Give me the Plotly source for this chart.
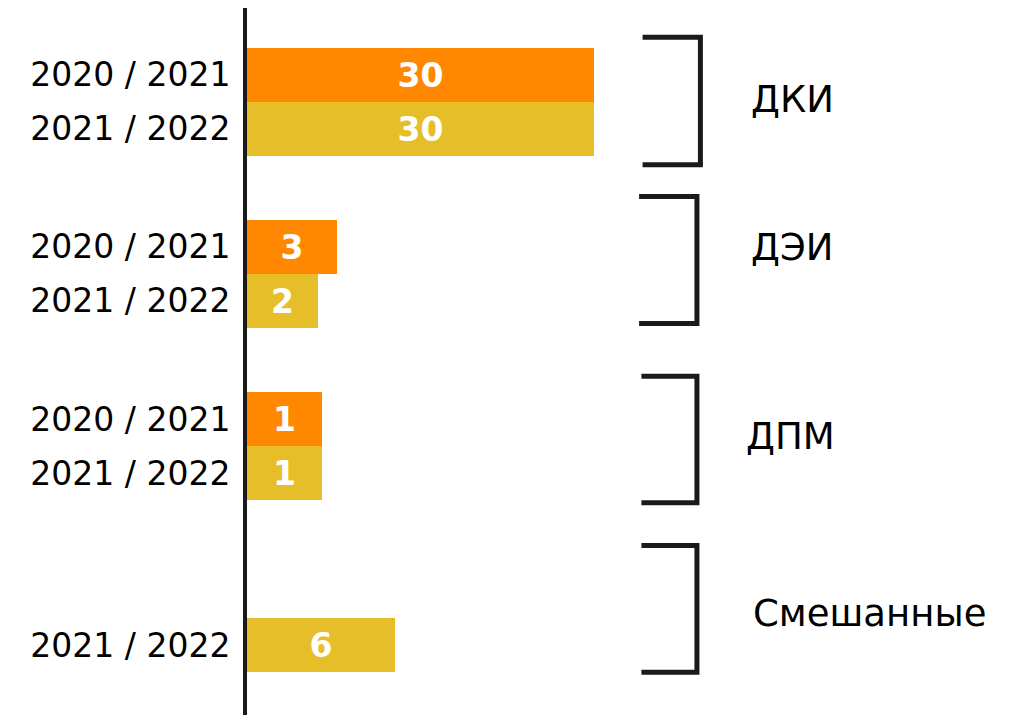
import plotly.graph_objects as go

# groups and periods
groups = ["ДКИ", "ДЭИ", "ДПМ", "Смешанные"]
periods = ["2020 / 2021", "2021 / 2022"]

# value labels shown on the bars
values_2021 = [30, 3, 1, None]
values_2022 = [30, 2, 1, 6]

# drawn bar lengths as they appear in the picture (not to scale with the labels)
length_2021 = [30, 7.8, 6.5, None]
length_2022 = [30, 6.1, 6.5, 12.8]

ORANGE = "#FF8800"
YELLOW = "#E6BE2A"
INK = "#1a1a1a"
FONT = "DejaVu Sans, sans-serif"

GROUP_PITCH = 3.19   # slots between group starts
FONT_SIZE = 33


def group_y(g, slot):
    return g * GROUP_PITCH + slot


fig = go.Figure()

tick_vals, tick_text = [], []
for slot, (vals, lens, color) in enumerate(
        [(values_2021, length_2021, ORANGE), (values_2022, length_2022, YELLOW)]):
    ys, xs, txt = [], [], []
    for g in range(len(groups)):
        if vals[g] is None:
            continue
        ys.append(group_y(g, slot))
        xs.append(lens[g])
        txt.append(str(vals[g]))
        tick_vals.append(group_y(g, slot))
        tick_text.append(periods[slot])
    fig.add_trace(go.Bar(
        x=xs, y=ys, orientation="h", width=1.0,
        marker=dict(color=color, line=dict(width=0)),
        text=txt, textposition="inside", insidetextanchor="middle",
        textangle=0,
        textfont=dict(family=FONT, size=FONT_SIZE, color="white", weight="bold"),
        cliponaxis=False, showlegend=False, hoverinfo="skip",
    ))

# brackets on the right: (top, bottom, left x, right x) in axis units
brackets = [(-0.69, 1.67, 34.2, 39.2),
            (2.26, 4.61, 33.9, 38.9),
            (5.59, 7.93, 34.1, 38.9),
            (8.72, 11.07, 34.1, 38.9)]
label_y = [0.47, 3.2, 6.7, 9.99]
label_x = [43.4, 43.4, 43.0, 43.6]

for (top, bot, x0, x1) in brackets:
    fig.add_shape(type="path",
                  path=f"M {x0},{top} L {x1},{top} L {x1},{bot} L {x0},{bot}",
                  xref="x", yref="y", line=dict(color=INK, width=5))

for g, name in enumerate(groups):
    fig.add_annotation(x=label_x[g], y=label_y[g], text=name, showarrow=False,
                       xanchor="left", yanchor="middle",
                       font=dict(family=FONT, size=37, color="black"))

fig.update_layout(
    width=1015, height=715,
    margin=dict(l=239, r=0, t=0, b=0),
    paper_bgcolor="white", plot_bgcolor="white",
    bargap=0,
    xaxis=dict(range=[0, 67.09], visible=False, fixedrange=True),
    yaxis=dict(range=[12.009, -1.2315], showgrid=False, zeroline=False,
               showline=True, linewidth=4, linecolor=INK,
               tickvals=tick_vals, ticktext=tick_text, ticks="",
               ticklabelstandoff=6,
               tickfont=dict(family=FONT, size=FONT_SIZE, color="black")),
)

fig.write_html("out.html")
